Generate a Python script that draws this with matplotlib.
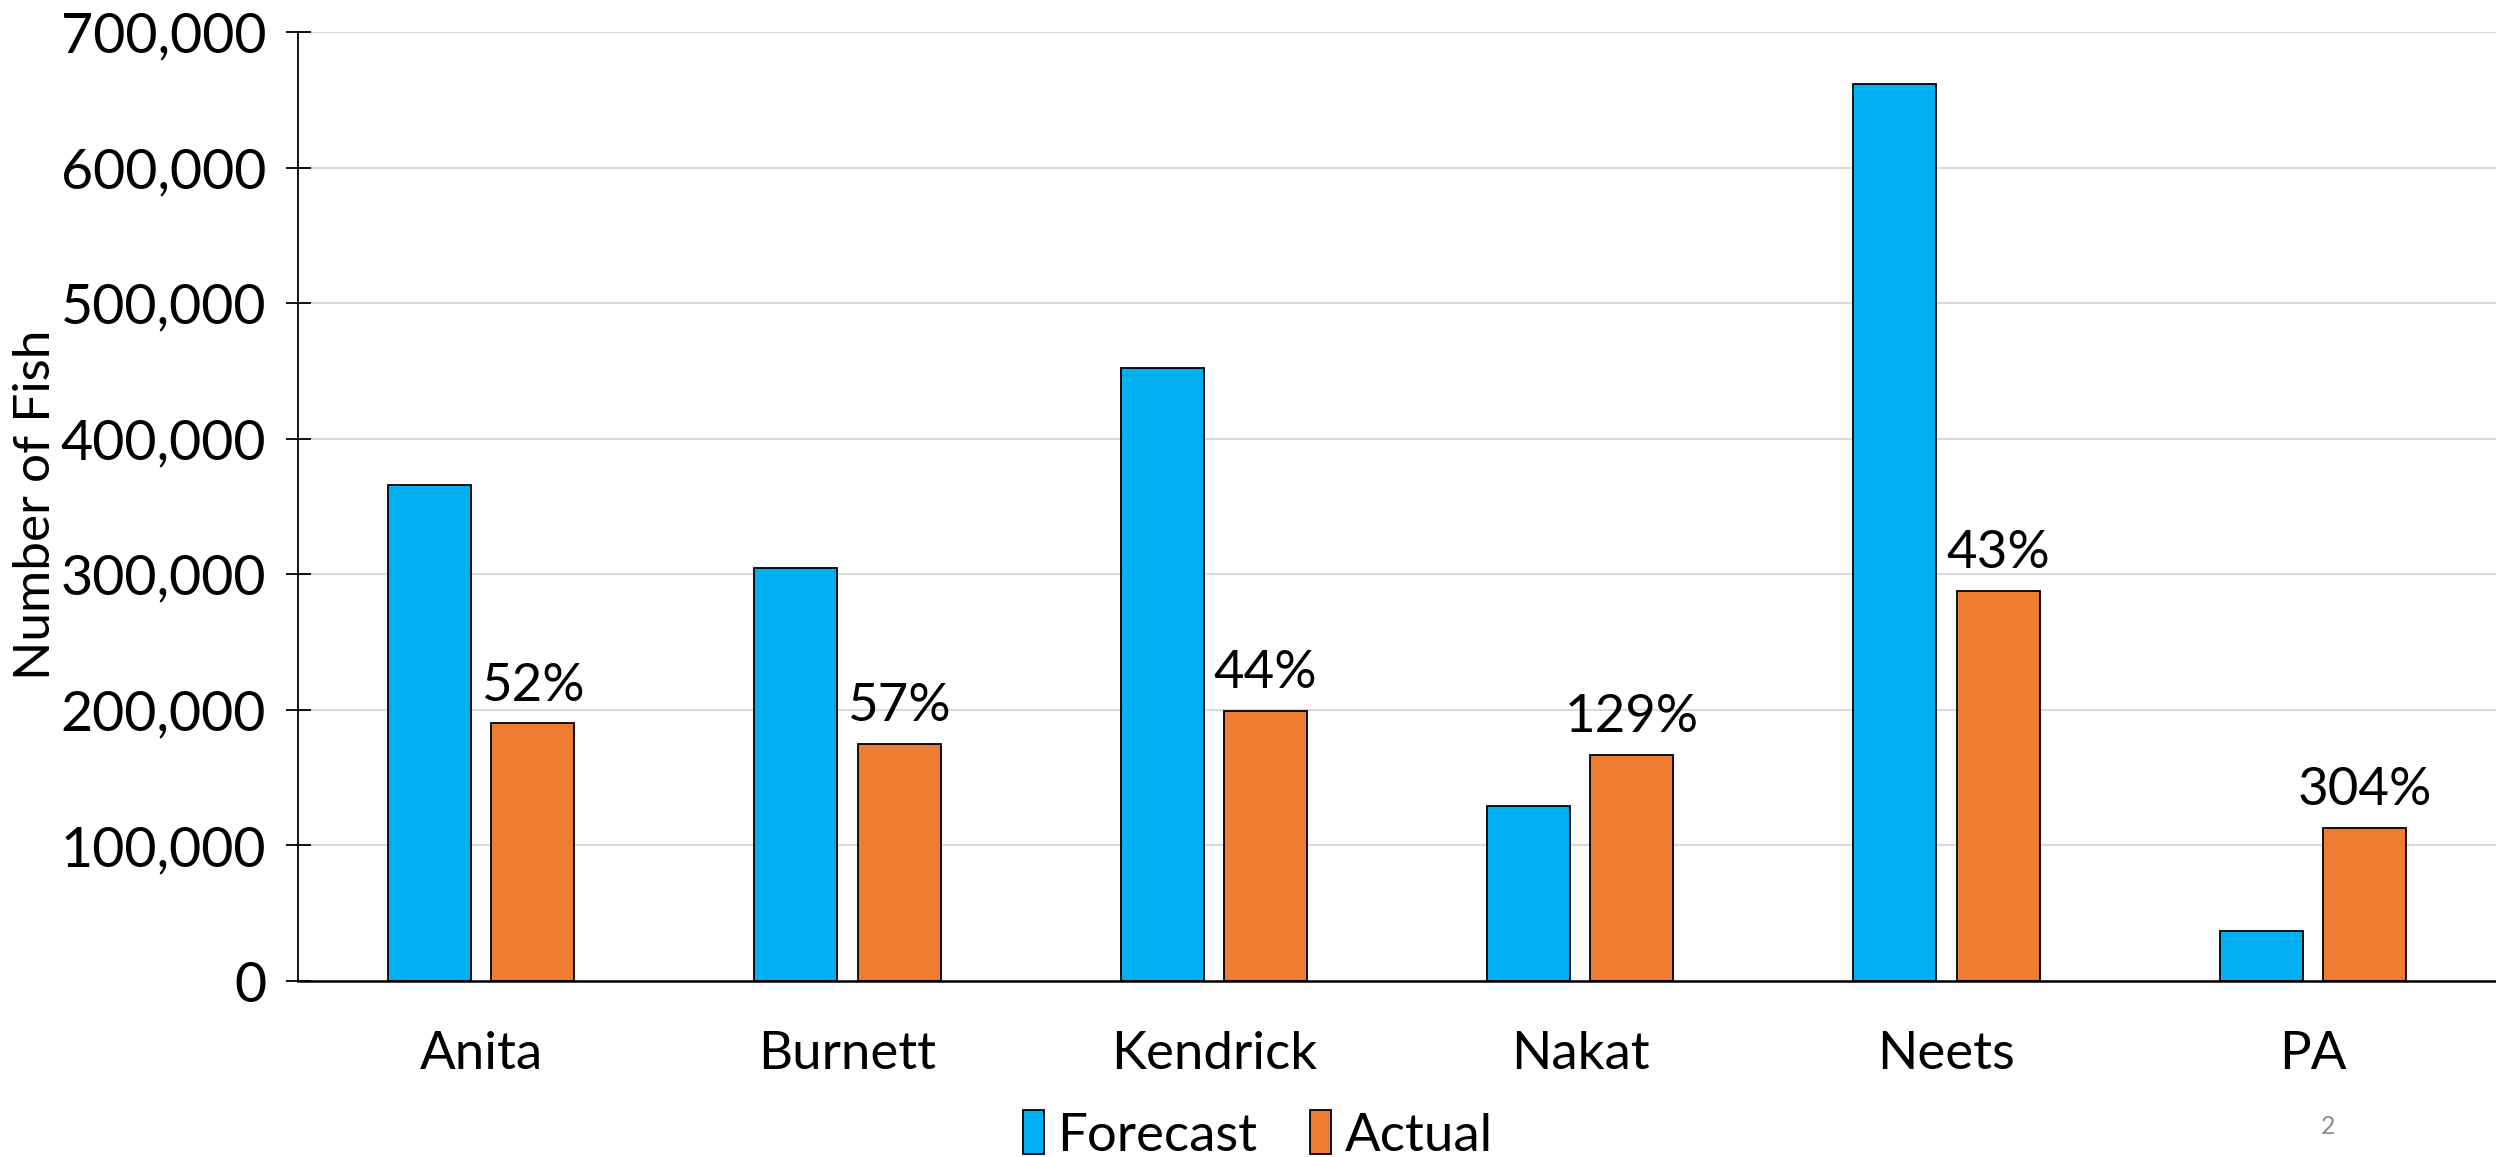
import matplotlib
matplotlib.use("Agg")
import matplotlib.pyplot as plt
import numpy as np
from matplotlib.ticker import FuncFormatter

categories = ["Anita", "Burnett", "Kendrick", "Nakat", "Neets", "PA"]
forecast = [366000, 305000, 452000, 129000, 662000, 37000]
actual = [190000, 175000, 199000, 167000, 288000, 113000]
pct_labels = ["52%", "57%", "44%", "129%", "43%", "304%"]
series_names = ["Forecast", "Actual"]

plt.rcParams['font.family'] = ['Lato', 'DejaVu Sans']

fig = plt.figure(figsize=(24.96, 11.57), dpi=100)
ax = fig.add_axes([298/2496, 1-981/1157, 1-298/2496, (981-32)/1157])

x = np.arange(len(categories))
w = 0.226
off = 0.141
b1 = ax.bar(x - off, forecast, w, color="#00B0F0", edgecolor="black", linewidth=1.3, label=series_names[0], zorder=3)
b2 = ax.bar(x + off, actual, w, color="#ED7D31", edgecolor="black", linewidth=1.3, label=series_names[1], zorder=3)

for rect, lab in zip(b2, pct_labels):
    ax.annotate(lab, (rect.get_x() + rect.get_width()/2, rect.get_height()),
                xytext=(0, 10), textcoords="offset points", ha="center", va="bottom",
                fontsize=38)

ax.set_xlim(-0.5, len(categories) - 0.5)
ax.set_ylim(0, 700000)
ax.set_yticks(np.arange(0, 700001, 100000))
ax.yaxis.set_major_formatter(FuncFormatter(lambda v, p: f"{int(v):,}"))
ax.set_xticks(x)
ax.set_xticklabels(categories)
ax.tick_params(axis='y', direction='inout', length=18, width=1.3, labelsize=40, pad=14)
ax.tick_params(axis='x', length=0, labelsize=38, pad=36)

fig.text(36/2496, 1-505/1157, "Number of Fish", rotation=90, ha="center", va="center", fontsize=37)

ax.yaxis.grid(True, color="#d9d9d9", linewidth=1.5, zorder=0)
ax.set_axisbelow(True)
for s in ["top", "right"]:
    ax.spines[s].set_visible(False)
ax.spines["left"].set_linewidth(1.3)
ax.spines["bottom"].set_linewidth(1.8)
ax.spines["left"].set_zorder(4)
ax.spines["bottom"].set_zorder(4)

fig.legend(handles=[b1, b2], labels=series_names, loc="center",
           bbox_to_anchor=(1258/2496, 1-1135/1157), ncol=2, frameon=False,
           fontsize=38, handlelength=0.4, handleheight=0.9, handletextpad=0.25,
           columnspacing=1.0, borderaxespad=0, borderpad=0)

fig.text(2328/2496, 1-1127/1157, "2", color="#8c8c8c", fontsize=18, ha="center", va="center")

fig.savefig("out.png", dpi=100)
